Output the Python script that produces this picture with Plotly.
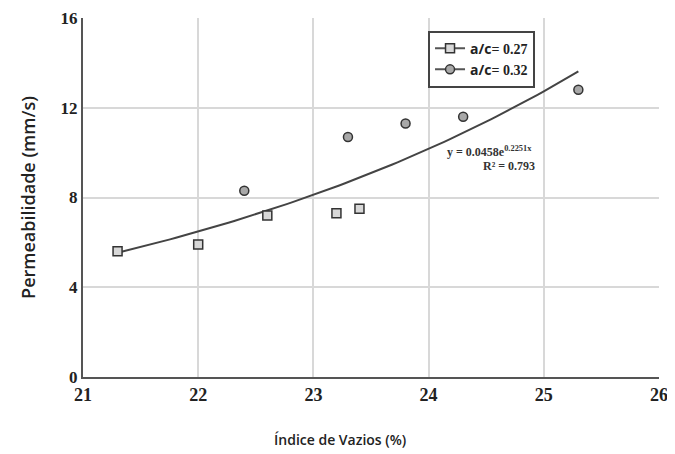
import numpy as np
import plotly.graph_objects as go

x_027 = [21.3, 22.0, 22.6, 23.2, 23.4]
y_027 = [5.6, 5.9, 7.2, 7.3, 7.5]
x_032 = [22.4, 23.3, 23.8, 24.3, 25.3]
y_032 = [8.3, 10.7, 11.3, 11.6, 12.8]
trend_a = 0.0458
trend_b = 0.2251
trend_range = [21.3, 25.3]
x_ticks = [21, 22, 23, 24, 25, 26]
y_ticks = [0, 4, 8, 12, 16]

tx = np.linspace(trend_range[0], trend_range[1], 80)
ty = trend_a * np.exp(trend_b * tx)

SERIF = "Liberation Serif"
SANS = "Open Sans"

sq = dict(symbol="square", size=9, color="#d8d8d8", line=dict(color="#333", width=1.5))
ci = dict(symbol="circle", size=9, color="#a8a8a8", line=dict(color="#333", width=1.5))

fig = go.Figure()
fig.add_trace(go.Scatter(x=tx, y=ty, mode="lines", line=dict(color="#444", width=2),
                         showlegend=False, hoverinfo="skip"))
fig.add_trace(go.Scatter(x=x_027, y=y_027, mode="markers", marker=sq, showlegend=False))
fig.add_trace(go.Scatter(x=x_032, y=y_032, mode="markers", marker=ci, showlegend=False))
# legend entries (line + marker symbols as in the reference)
fig.add_trace(go.Scatter(x=[None], y=[None], mode="lines+markers", marker=sq,
                         line=dict(color="#555", width=2),
                         name="<b><span style='font-family:Open Sans'>a/c</span>= 0.27</b>"))
fig.add_trace(go.Scatter(x=[None], y=[None], mode="lines+markers", marker=ci,
                         line=dict(color="#555", width=2),
                         name="<b><span style='font-family:Open Sans'>a/c</span>= 0.32</b>"))

fig.add_annotation(x=24.53, y=10.03, xref="x", yref="y",
                   text="<b>y = 0.0458e<sup>0.2251x</sup></b>",
                   showarrow=False, font=dict(family=SERIF, size=12, color="#333"))
fig.add_annotation(x=24.70, y=9.40, xref="x", yref="y",
                   text="<b>R² = 0.793</b>",
                   showarrow=False, font=dict(family=SERIF, size=12, color="#333"))
# x-axis title (offset left of the plot centre, as in the reference)
fig.add_annotation(x=0.446, y=-0.175, xref="paper", yref="paper",
                   text="Índice de Vazios (%)", showarrow=False,
                   xanchor="center", yanchor="middle",
                   font=dict(family=SANS, size=14, color="#222", weight=600))

fig.update_layout(
    width=667, height=446,
    margin=dict(l=75, r=16, t=10, b=77),
    paper_bgcolor="white", plot_bgcolor="white",
    font=dict(family=SERIF, color="#222"),
    legend=dict(x=0.599, y=0.965, xanchor="left", yanchor="top",
                bordercolor="#444", borderwidth=2, bgcolor="white",
                font=dict(family=SERIF, size=14, color="#222"),
                tracegroupgap=0, itemwidth=30),
)
fig.update_xaxes(range=[21, 26], tickvals=x_ticks, ticktext=[f"<b>{v}</b>" for v in x_ticks],
                 showgrid=True, gridcolor="#d8d8d8", gridwidth=1.5,
                 showline=True, linecolor="#555", linewidth=2, ticks="", zeroline=False,
                 automargin=False, ticklabeloverflow="allow",
                 tickfont=dict(family=SERIF, size=18, color="#222"))
fig.update_yaxes(range=[0, 16], tickvals=y_ticks, ticktext=[f"<b>{v}</b>" for v in y_ticks],
                 showgrid=True, gridcolor="#d8d8d8", gridwidth=1.5,
                 showline=True, linecolor="#555", linewidth=2, ticks="", zeroline=False,
                 automargin=False, ticklabeloverflow="allow",
                 tickfont=dict(family=SERIF, size=17, color="#222"),
                 title=dict(text="Permeabilidade (mm/s)", standoff=20,
                            font=dict(family=SANS, size=18, color="#222", weight=600)))
fig.write_html("out.html")
